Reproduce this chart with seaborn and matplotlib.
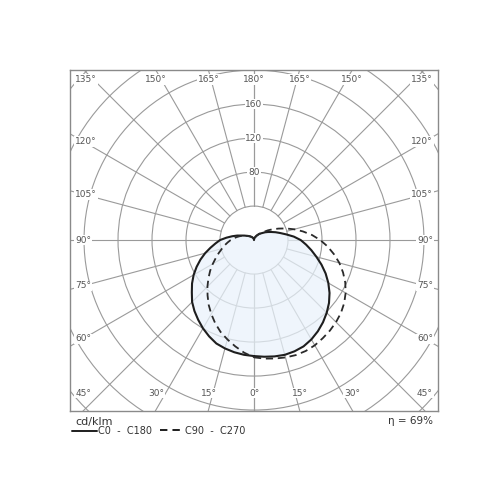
import numpy as np
import pandas as pd
import seaborn as sns
import matplotlib.pyplot as plt
from matplotlib.patches import Circle
from matplotlib.lines import Line2D

# intensity in cd/klm, gamma measured from straight down (0) to straight up (180)
gamma = list(range(0, 181, 5))
c0 = [136.5, 137.8, 139, 139.8, 139.3, 138, 135, 131, 126.3, 121, 115.2, 108.5, 101, 93, 84.5,
      76, 68.5, 61.5, 55, 47, 38.5, 32, 27, 22.5, 19, 16, 13, 11, 9.5, 7.5, 6, 4.5, 3.5, 2.5,
      1.5, 0.7, 0]
c180 = [136.5, 135.5, 134, 132, 129.5, 125, 120, 114.5, 109, 103, 95.5, 89, 82, 74.5, 67,
        59.5, 52, 45.5, 40, 32.5, 26, 20.5, 15.5, 12.5, 10, 8.5, 7, 6, 5, 4.2, 3.5, 2.7, 2,
        1.5, 1, 0.5, 0]
c90 = [138, 140, 141.5, 143, 144, 144, 143, 141, 139, 136.5, 133.5, 129.5, 124.5, 118.5, 111.5,
       104, 95.5, 87, 78, 68.5, 58.5, 49, 40, 32, 25.5, 20, 15, 11.5, 9, 7, 5.5, 4, 3, 2,
       1.5, 0.7, 0]
c270 = [138, 133, 127, 121, 115, 108, 100.5, 93, 85, 77.5, 70, 63, 56, 49.5, 44, 39, 35, 31,
        27.5, 24, 20.5, 17.5, 14.5, 12, 10, 8.5, 7, 6, 5, 4.2, 3.5, 2.7, 2, 1.5, 1, 0.5, 0]

ring_values = [40, 80, 120, 160, 200, 240, 280]
ring_labels = [80, 120, 160]
angle_ticks = list(range(0, 181, 15))
efficiency = 69

XMAX, YTOP, YBOT = 216.5, 200, -201

sns.set_style('white')
plt.rcParams['font.family'] = ['DejaVu Sans']


def to_xy(g, vals, side):
    g = np.radians(np.array(g, dtype=float))
    v = np.array(vals, dtype=float)
    return side * v * np.sin(g), -v * np.cos(g)


def curve_df(left_vals, right_vals):
    xr, yr = to_xy(gamma, right_vals, 1)
    xl, yl = to_xy(gamma[::-1], left_vals[::-1], -1)
    return pd.DataFrame({'x': np.concatenate([xr, xl[1:]]),
                         'y': np.concatenate([yr, yl[1:]])})


solid = curve_df(c180, c0)
dashed = curve_df(c270, c90)

fig = plt.figure(figsize=(5, 5), dpi=100)
ax = fig.add_axes([0.14, 0.178, 0.736, 0.682])
ax.set_xlim(-XMAX, XMAX)
ax.set_ylim(YBOT, YTOP)
ax.set_aspect('equal')
ax.set_xticks([])
ax.set_yticks([])
for sp in ax.spines.values():
    sp.set_color('#8a8a8a')
    sp.set_linewidth(1.0)

grid_col = '#9a9a9a'
for r in ring_values:
    ax.add_patch(Circle((0, 0), r, fill=False, ec=grid_col, lw=0.8, zorder=1))
for a in angle_ticks:
    for side in (1, -1):
        t = np.radians(a)
        dx, dy = side * np.sin(t), -np.cos(t)
        ax.plot([40 * dx, 500 * dx], [40 * dy, 500 * dy], color=grid_col, lw=0.8, zorder=1)

# fill of the C0-C180 curve
ax.fill(solid['x'], solid['y'], color='#e9f2fb', alpha=0.72, lw=0, zorder=2)

sns.lineplot(data=solid, x='x', y='y', sort=False, estimator=None, ax=ax,
             color='#1e1e1e', lw=1.5, zorder=4)
sns.lineplot(data=dashed, x='x', y='y', sort=False, estimator=None, ax=ax,
             color='#2a2a2a', lw=1.3, linestyle=(0, (4, 2.6)), zorder=4)
ax.set_xlabel('')
ax.set_ylabel('')

lab_kw = dict(fontsize=6.5, color='#555555', zorder=5,
              bbox=dict(facecolor='white', edgecolor='none', pad=0.6))
for v in ring_labels:
    ax.text(0, v, str(v), ha='center', va='center', **lab_kw)

for a in angle_ticks:
    for side in (1, -1):
        if a in (0, 180) and side == -1:
            continue
        t = np.radians(a)
        dx, dy = side * np.sin(t), -np.cos(t)
        lim_y = YTOP if dy > 0 else -YTOP
        s_edge = min(XMAX / abs(dx) if dx else 1e9, abs(lim_y / dy) if abs(dy) > 1e-9 else 1e9)
        px, py = s_edge * dx, s_edge * dy
        txt = f'{a}°'
        if abs(abs(py) - YTOP) < 1e-6:
            ty = 189 if py > 0 else -180
            if abs(px) > XMAX - 25:
                ha = 'right' if px > 0 else 'left'
                tx = (XMAX - 6) * np.sign(px)
            else:
                ha, tx = 'center', px
            ax.text(tx, ty, txt, ha=ha, va='center', **lab_kw)
        else:
            ha = 'right' if px > 0 else 'left'
            ax.text((XMAX - 6) * np.sign(px), py * 0.93, txt, ha=ha, va='center', **lab_kw)

# legend area
fig.text(0.150, 0.157, 'cd/klm', fontsize=8, color='#333333', va='center')
fig.add_artist(Line2D([0.144, 0.194], [0.139, 0.139], color='#1e1e1e', lw=1.4))
fig.text(0.196, 0.138, 'C0  -  C180', fontsize=7, color='#333333', va='center')
fig.add_artist(Line2D([0.320, 0.360], [0.141, 0.141], color='#1e1e1e', lw=1.4,
                      linestyle=(0, (3.8, 2.6))))
fig.text(0.370, 0.138, 'C90  -  C270', fontsize=7, color='#333333', va='center')
fig.text(0.866, 0.158, f'η = {efficiency}%', fontsize=7.5, color='#333333',
         ha='right', va='center')

fig.savefig('out.png', dpi=100, facecolor='white')
